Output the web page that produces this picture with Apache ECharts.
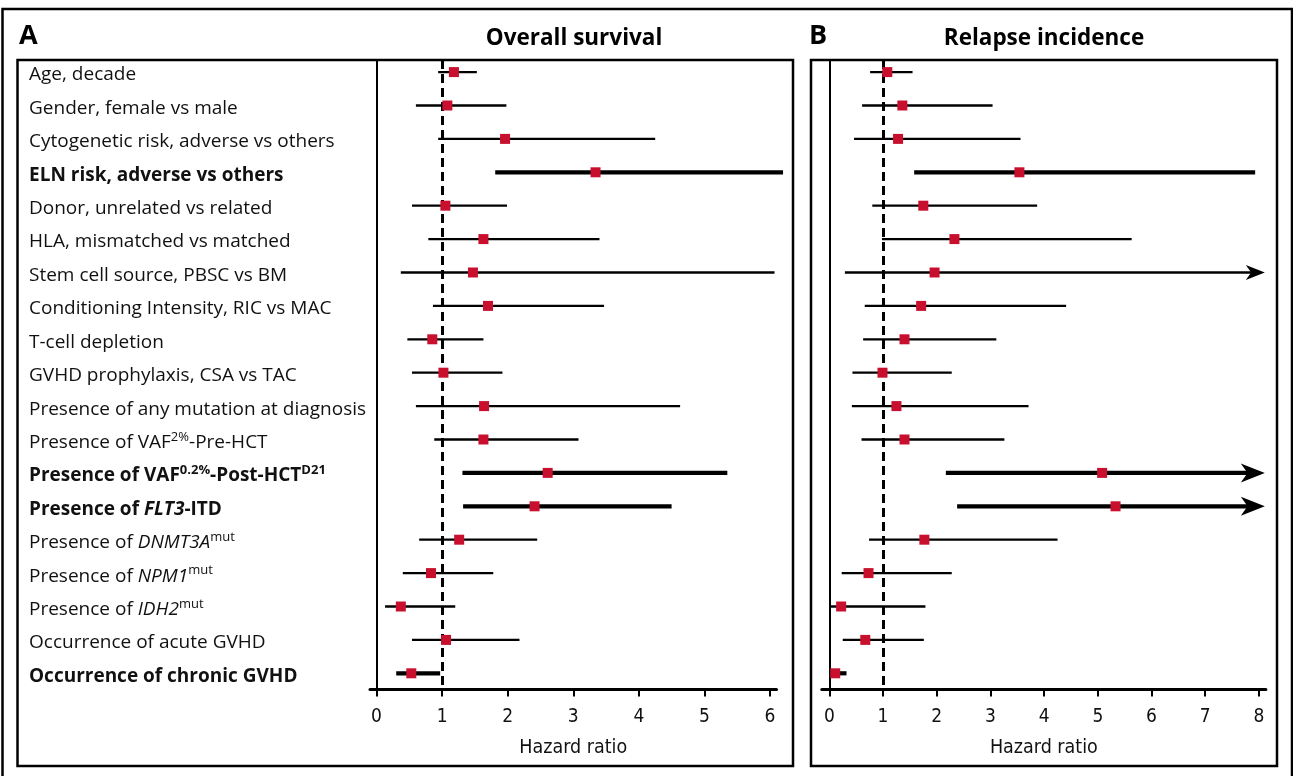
<!DOCTYPE html>
<html><head><meta charset="utf-8">
<script src="https://cdn.jsdelivr.net/npm/echarts@6/dist/echarts.min.js"></script>
<style>html,body{margin:0;padding:0;background:#fff}#c{width:1293px;height:776px}</style>
</head><body><div id="c"></div>
<script>
// ---- data ----
const rowLabels = [
  'Age, decade',
  'Gender, female vs male',
  'Cytogenetic risk, adverse vs others',
  '{b|ELN risk, adverse vs others}',
  'Donor, unrelated vs related',
  'HLA, mismatched vs matched',
  'Stem cell source, PBSC vs BM',
  'Conditioning Intensity, RIC vs MAC',
  'T-cell depletion',
  'GVHD prophylaxis, CSA vs TAC',
  'Presence of any mutation at diagnosis',
  'Presence of VAF{sup|2%}-Pre-HCT',
  '{b|Presence of VAF}{bsup|0.2%}{b|-Post-HCT}{bsup|D21}',
  '{b|Presence of }{bi|FLT3}{b|-ITD}',
  'Presence of {i|DNMT3A}{sup|mut}',
  'Presence of {i|NPM1}{sup|mut}',
  'Presence of {i|IDH2}{sup|mut}',
  'Occurrence of acute GVHD',
  '{b|Occurrence of chronic GVHD}'
];
const boldRows = [3, 12, 13, 18];

// Overall survival (panel A)
const osHR   = [1.18, 1.08, 1.96, 3.34, 1.05, 1.63, 1.47, 1.70, 0.85, 1.02, 1.64, 1.63, 2.61, 2.41, 1.26, 0.83, 0.37, 1.06, 0.53];
const osLow  = [0.94, 0.60, 0.94, 1.81, 0.54, 0.79, 0.37, 0.86, 0.47, 0.54, 0.60, 0.88, 1.31, 1.32, 0.65, 0.40, 0.13, 0.54, 0.30];
const osHigh = [1.53, 1.98, 4.25, 6.20, 1.99, 3.40, 6.07, 3.47, 1.63, 1.92, 4.63, 3.08, 5.35, 4.50, 2.45, 1.78, 1.20, 2.18, 0.97];
const osTicks = [0, 1, 2, 3, 4, 5, 6];

// Relapse incidence (panel B)
const riHR   = [1.08, 1.36, 1.28, 3.54, 1.75, 2.33, 1.96, 1.71, 1.40, 0.99, 1.25, 1.40, 5.08, 5.33, 1.77, 0.73, 0.22, 0.67, 0.11];
const riLow  = [0.76, 0.61, 0.46, 1.58, 0.80, 0.98, 0.29, 0.66, 0.63, 0.43, 0.42, 0.60, 2.17, 2.38, 0.74, 0.23, 0.03, 0.25, 0.03];
const riHigh = [1.55, 3.04, 3.56, 7.93, 3.87, 5.63, 8.11, 4.41, 3.11, 2.28, 3.71, 3.26, 8.11, 8.11, 4.25, 2.28, 1.79, 1.76, 0.32];
const riArrow = [0, 0, 0, 0, 0, 0, 1, 0, 0, 0, 0, 0, 1, 1, 0, 0, 0, 0, 0];
const riTicks = [0, 1, 2, 3, 4, 5, 6, 7, 8];

const rowIdx = rowLabels.map((_, i) => i);

// ---- fonts ----
function pickFont(cands, fallback) {
  const c = document.createElement('canvas').getContext('2d');
  const s = 'Hazard ratio 0123456789';
  for (const f of cands) {
    c.font = '40px monospace'; const w0 = c.measureText(s).width;
    c.font = '40px "' + f + '", monospace'; const w1 = c.measureText(s).width;
    c.font = '40px serif'; const w2 = c.measureText(s).width;
    c.font = '40px "' + f + '", serif'; const w3 = c.measureText(s).width;
    if (w0 !== w1 || w2 !== w3) return '"' + f + '"';
  }
  return fallback;
}
const RED = '#c8102e';
const LABEL_FONT = '"Open Sans", "Noto Sans", sans-serif';
const AX_FONT = pickFont(['Liberation Sans Narrow', 'DejaVu Sans Condensed', 'Roboto'], 'sans-serif') + ', sans-serif';
const LS = 19;

const chart = echarts.init(document.getElementById('c'), null, {renderer: 'canvas'});

function ciRender(params, api) {
  const lo = api.value(0), hi = api.value(1), row = api.value(2), bold = api.value(3), arrow = api.value(4);
  const a = api.coord([lo, row]), b = api.coord([hi, row]);
  const w = bold ? 4.2 : 2.3;
  const children = [];
  let endX = b[0];
  if (arrow) {
    const L = bold ? 24 : 19, H = bold ? 19 : 15;
    endX = b[0] - L * 0.6;
    children.push({type: 'polygon', shape: {points: [[b[0], b[1]], [b[0] - L, b[1] - H / 2], [b[0] - L * 0.72, b[1]], [b[0] - L, b[1] + H / 2]]}, style: {fill: '#000'}});
  }
  children.unshift({type: 'line', shape: {x1: a[0], y1: a[1], x2: endX, y2: b[1]}, style: {stroke: '#000', lineWidth: w}});
  return {type: 'group', children};
}

function xAxisCfg(idx, min, max, ticks) {
  return {
    type: 'value', gridIndex: idx, min, max,
    axisLine: {onZero: false, lineStyle: {color: '#000', width: 3}},
    axisTick: {show: true, customValues: ticks, length: 7, lineStyle: {color: '#000', width: 2}},
    axisLabel: {customValues: ticks, fontSize: 19, fontFamily: AX_FONT, color: '#111', margin: 18},
    splitLine: {show: false},
    name: 'Hazard ratio', nameLocation: 'middle', nameGap: 48,
    nameTextStyle: {fontSize: 19.5, fontFamily: AX_FONT, color: '#111'}
  };
}
function yAxisCfg(idx, showLabels) {
  return {
    type: 'value', gridIndex: idx, inverse: true, min: -0.362, max: 18.485,
    axisLine: {show: true, onZero: true, lineStyle: {color: '#000', width: 2}},
    axisTick: {show: false},
    splitLine: {show: false},
    axisLabel: {
      show: showLabels, customValues: rowIdx, align: 'left', margin: 341,
      padding: [6, 0, 0, 0],
      formatter: v => rowLabels[Math.round(v)] || '',
      fontSize: LS, fontFamily: LABEL_FONT, color: '#111',
      rich: {
        b: {fontSize: LS, fontFamily: LABEL_FONT, fontWeight: 'bold', color: '#111'},
        i: {fontSize: LS, fontFamily: LABEL_FONT, fontStyle: 'italic', color: '#111'},
        bi: {fontSize: LS, fontFamily: LABEL_FONT, fontWeight: 'bold', fontStyle: 'italic', color: '#111'},
        sup: {fontSize: 13, fontFamily: LABEL_FONT, color: '#111', padding: [0, 0, 11, 0]},
        bsup: {fontSize: 13, fontFamily: LABEL_FONT, fontWeight: 'bold', color: '#111', padding: [0, 0, 11, 0]}
      }
    }
  };
}

const osCI = rowIdx.map(i => [osLow[i], osHigh[i], i, boldRows.includes(i) ? 1 : 0, 0]);
const riCI = rowIdx.map(i => [riLow[i], riHigh[i], i, boldRows.includes(i) ? 1 : 0, riArrow[i]]);
const refLine = {
  silent: true, symbol: ['none', 'none'], animation: false,
  label: {show: false},
  lineStyle: {color: '#000', width: 3, type: [9, 5]},
  data: [{xAxis: 1}]
};

chart.setOption({
  animation: false,
  backgroundColor: '#fff',
  grid: [
    {left: 370, width: 406.5, top: 60, height: 629.5},
    {left: 821.8, width: 444.1, top: 60, height: 629.5}
  ],
  xAxis: [xAxisCfg(0, -0.1, 6.1, osTicks), xAxisCfg(1, -0.14, 8.13, riTicks)],
  yAxis: [yAxisCfg(0, true), yAxisCfg(1, false)],
  graphic: [
    {type: 'rect', shape: {x: 2.5, y: 9, width: 1289.5, height: 790}, style: {fill: 'none', stroke: '#000', lineWidth: 2.5}, z: -1},
    {type: 'rect', shape: {x: 17.5, y: 60, width: 775.5, height: 706}, style: {fill: 'none', stroke: '#000', lineWidth: 2.5}, z: -1},
    {type: 'rect', shape: {x: 811, y: 60, width: 466, height: 706}, style: {fill: 'none', stroke: '#000', lineWidth: 2.5}, z: -1},
    {type: 'text', left: 19, top: 23, style: {text: 'A', font: 'bold 27px ' + LABEL_FONT, fill: '#000'}},
    {type: 'text', x: 574, y: 39, style: {text: 'Overall survival', font: 'bold 22.5px ' + LABEL_FONT, fill: '#000', textAlign: 'center', textVerticalAlign: 'middle'}},
    {type: 'text', left: 809, top: 23, style: {text: 'B', font: 'bold 27px ' + LABEL_FONT, fill: '#000'}},
    {type: 'text', x: 1044, y: 39, style: {text: 'Relapse incidence', font: 'bold 22.5px ' + LABEL_FONT, fill: '#000', textAlign: 'center', textVerticalAlign: 'middle'}}
  ],
  series: [
    {type: 'custom', xAxisIndex: 0, yAxisIndex: 0, renderItem: ciRender, data: osCI, encode: {x: [0, 1], y: 2}, clip: false, z: 2, markLine: refLine},
    {type: 'scatter', xAxisIndex: 0, yAxisIndex: 0, symbol: 'rect', symbolSize: 10, itemStyle: {color: RED, opacity: 1}, data: rowIdx.map(i => [osHR[i], i]), z: 5},
    {type: 'custom', xAxisIndex: 1, yAxisIndex: 1, renderItem: ciRender, data: riCI, encode: {x: [0, 1], y: 2}, clip: false, z: 2, markLine: refLine},
    {type: 'scatter', xAxisIndex: 1, yAxisIndex: 1, symbol: 'rect', symbolSize: 10, itemStyle: {color: RED, opacity: 1}, data: rowIdx.map(i => [riHR[i], i]), z: 5}
  ]
});
</script>
</body></html>
